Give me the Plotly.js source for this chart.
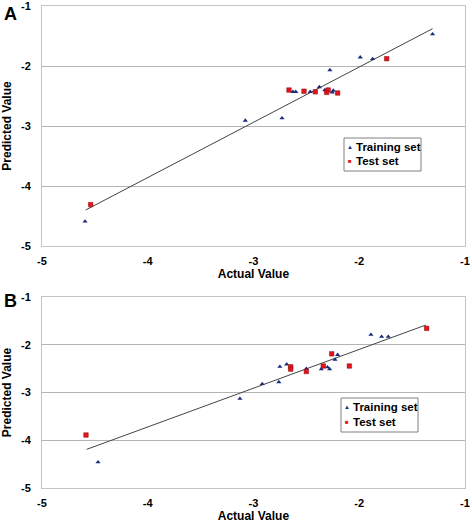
<!DOCTYPE html>
<html><head><meta charset="utf-8">
<script src="https://cdn.plot.ly/plotly-3.0.1.min.js"></script>
<style>html,body{margin:0;padding:0;background:#fff}#chart{width:472px;height:523px}</style>
</head><body><div id="chart"></div>
<script>
// Panel A data
const aTrainX = [-1.306, -1.99, -1.873, -2.277, -2.627, -2.60, -2.463, -2.377, -2.325, -2.255, -2.245, -3.077, -2.73, -4.593];
const aTrainY = [-1.47, -1.855, -1.883, -2.067, -2.43, -2.43, -2.43, -2.35, -2.40, -2.44, -2.41, -2.91, -2.87, -4.59];
const aTestX = [-1.74, -2.664, -2.522, -2.415, -2.308, -2.293, -2.204, -4.54];
const aTestY = [-1.878, -2.40, -2.42, -2.43, -2.44, -2.40, -2.45, -4.31];
const aLineX = [-4.587, -1.306];
const aLineY = [-4.40, -1.378];
// Panel B data
const bTrainX = [-1.889, -1.788, -1.725, -2.204, -2.229, -2.30, -2.28, -2.358, -2.50, -2.686, -2.75, -2.76, -2.917, -3.128, -4.47];
const bTrainY = [-1.79, -1.83, -1.83, -2.21, -2.31, -2.47, -2.51, -2.51, -2.50, -2.41, -2.46, -2.78, -2.82, -3.13, -4.46];
const bTestX = [-1.362, -2.26, -2.093, -2.34, -2.50, -2.648, -2.648, -4.584];
const bTestY = [-1.656, -2.19, -2.445, -2.445, -2.56, -2.46, -2.51, -3.89];
const bLineX = [-4.577, -1.369];
const bLineY = [-4.19, -1.586];
const ticks = [-5, -4, -3, -2, -1];
const tickText = ['-5', '-4', '-3', '-2', '-1'];
const seriesNames = ['Training set', 'Test set'];

const navy = '#1a2a7a', red = '#e3141c';
const font = {family: 'Arial, "Liberation Sans", sans-serif', color: '#000'};
const tri = {symbol: 'triangle-up', size: 4.5, color: navy};
const sq = {symbol: 'square', size: 4.5, color: red, line: {color: '#8a0a10', width: 0.5}};

const traces = [
  {x: aLineX, y: aLineY, mode: 'lines', line: {color: '#444', width: 1}, xaxis: 'x', yaxis: 'y', hoverinfo: 'skip'},
  {x: aTrainX, y: aTrainY, mode: 'markers', name: seriesNames[0], marker: tri, xaxis: 'x', yaxis: 'y'},
  {x: aTestX, y: aTestY, mode: 'markers', name: seriesNames[1], marker: sq, xaxis: 'x', yaxis: 'y'},
  {x: bLineX, y: bLineY, mode: 'lines', line: {color: '#444', width: 1}, xaxis: 'x2', yaxis: 'y2', hoverinfo: 'skip'},
  {x: bTrainX, y: bTrainY, mode: 'markers', name: seriesNames[0], marker: tri, xaxis: 'x2', yaxis: 'y2'},
  {x: bTestX, y: bTestY, mode: 'markers', name: seriesNames[1], marker: sq, xaxis: 'x2', yaxis: 'y2'}
];

function xax(anchor, dom) {
  return {anchor: anchor, domain: dom, range: [-5, -1], tickmode: 'array', tickvals: ticks, ticktext: tickText,
    showgrid: false, zeroline: false, showline: true, mirror: true, linecolor: '#c4c4c4', linewidth: 1,
    ticks: '', ticklabelstandoff: 5, ticklabeloverflow: 'allow', tickfont: Object.assign({size: 11, weight: 'bold'}, font),
    title: {text: 'Actual Value', font: Object.assign({size: 12, weight: 'bold'}, font), standoff: 3}};
}
function yax(anchor, dom) {
  return {anchor: anchor, domain: dom, range: [-5, -1], tickmode: 'array', tickvals: ticks, ticktext: tickText,
    showgrid: true, gridcolor: '#b4b4b4', gridwidth: 1, zeroline: false, showline: true, mirror: true, linecolor: '#c4c4c4', linewidth: 1,
    ticks: '', ticklabelstandoff: 8, ticklabeloverflow: 'allow', tickfont: Object.assign({size: 11, weight: 'bold'}, font),
    title: {text: 'Predicted Value', font: Object.assign({size: 12, weight: 'bold'}, font), standoff: 7}};
}

const W = 472, H = 523;
const px = v => v / W, py = v => 1 - v / H;
const shapes = [], annotations = [];
function legendBox(x0, y0, x1, y1, row1, row2, mx, tx) {
  shapes.push({type: 'rect', xref: 'paper', yref: 'paper', x0: px(x0), x1: px(x1), y0: py(y0), y1: py(y1),
    line: {color: '#808080', width: 1}, fillcolor: '#fff', layer: 'above'});
  [[row1, '▲', navy, seriesNames[0], 6], [row2, '■', red, seriesNames[1], 6]].forEach(r => {
    annotations.push({text: r[1], x: px(mx), y: py(r[0]), xref: 'paper', yref: 'paper', xanchor: 'center', yanchor: 'middle',
      showarrow: false, font: {family: font.family, size: r[4], color: r[2]}});
    annotations.push({text: r[3], x: px(tx), y: py(r[0]), xref: 'paper', yref: 'paper', xanchor: 'left', yanchor: 'middle',
      showarrow: false, font: Object.assign({size: 11.5, weight: 'bold'}, font)});
  });
}
legendBox(344, 138, 421, 171, 147, 161, 349.5, 354);
legendBox(341, 398, 418, 432, 407, 422, 346.5, 351);
annotations.push({text: 'A', x: px(2), y: py(2), xref: 'paper', yref: 'paper', xanchor: 'left', yanchor: 'top', showarrow: false, font: Object.assign({size: 18, weight: 'bold'}, font)});
annotations.push({text: 'B', x: px(2), y: py(289), xref: 'paper', yref: 'paper', xanchor: 'left', yanchor: 'top', showarrow: false, font: Object.assign({size: 18, weight: 'bold'}, font)});

const layout = {
  width: W, height: H, margin: {l: 0, r: 0, t: 0, b: 0}, paper_bgcolor: '#fff', plot_bgcolor: '#fff',
  font: font, showlegend: false,
  xaxis: xax('y', [0.089, 0.985]), yaxis: yax('x', [0.5296, 0.9885]),
  xaxis2: xax('y2', [0.089, 0.985]), yaxis2: yax('x2', [0.0669, 0.4321]),
  shapes: shapes, annotations: annotations
};
Plotly.newPlot('chart', traces, layout, {staticPlot: true, displayModeBar: false});
</script></body></html>
